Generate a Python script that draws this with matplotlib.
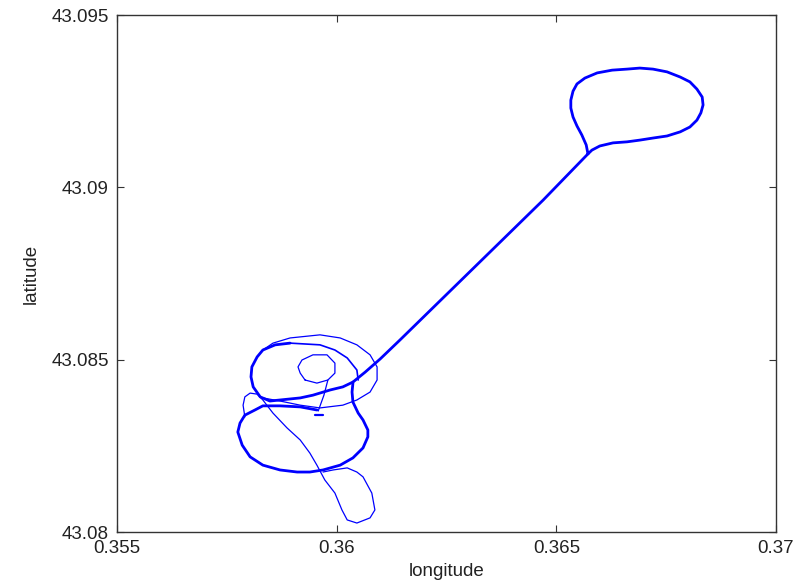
import matplotlib
matplotlib.use("Agg")
import matplotlib.pyplot as plt

# GPS track segments (longitude, latitude)
road_lon = [0.36037, 0.36065, 0.36099, 0.36144, 0.36470, 0.36572,
            0.36568, 0.36558, 0.36547, 0.36538, 0.36533, 0.36533, 0.36538, 0.36547, 0.36565,
            0.36593, 0.36627, 0.36661, 0.36690, 0.36720, 0.36752, 0.36782, 0.36804, 0.36820,
            0.36832, 0.36834, 0.36829, 0.36820, 0.36804, 0.36782, 0.36752, 0.36720, 0.36690,
            0.36661, 0.36629, 0.36599, 0.36581, 0.36572]
road_lat = [43.08435, 43.08464, 43.08502, 43.08557, 43.08963, 43.09097,
            43.09123, 43.09152, 43.09178, 43.09204, 43.09230, 43.09253, 43.09279, 43.09300, 43.09317,
            43.09332, 43.09340, 43.09343, 43.09346, 43.09343, 43.09335, 43.09320, 43.09306, 43.09285,
            43.09262, 43.09239, 43.09216, 43.09195, 43.09175, 43.09161, 43.09149, 43.09143, 43.09137,
            43.09132, 43.09129, 43.09120, 43.09108, 43.09097]

upper_lon = [0.36037, 0.36014, 0.35985, 0.35946, 0.35917, 0.35871, 0.35848, 0.35826, 0.35810,
             0.35805, 0.35807, 0.35819, 0.35832, 0.35860, 0.35894]
upper_lat = [43.08435, 43.08421, 43.08412, 43.08397, 43.08389, 43.08383, 43.08380, 43.08392, 43.08421,
             43.08450, 43.08479, 43.08508, 43.08528, 43.08543, 43.08548]

inner_lon = [0.35894, 0.35962, 0.35996, 0.36024, 0.36046, 0.36049]
inner_lat = [43.08548, 43.08543, 43.08528, 43.08505, 43.08470, 43.08441]

lower_lon = [0.36037, 0.36035, 0.36037, 0.36049, 0.36060, 0.36071, 0.36071, 0.36060, 0.36037,
             0.36008, 0.35969, 0.35939, 0.35910, 0.35871, 0.35832, 0.35803, 0.35785, 0.35775,
             0.35780, 0.35791, 0.35814, 0.35832, 0.35871, 0.35917, 0.35955]
lower_lat = [43.08432, 43.08406, 43.08377, 43.08345, 43.08325, 43.08296, 43.08276, 43.08244, 43.08215,
             43.08194, 43.08180, 43.08174, 43.08174, 43.08180, 43.08194, 43.08218, 43.08252, 43.08290,
             43.08316, 43.08339, 43.08354, 43.08366, 43.08366, 43.08363, 43.08354]

outer_lon = [0.35832, 0.35855, 0.35894, 0.35962, 0.36008, 0.36046, 0.36076, 0.36092, 0.36092,
             0.36076, 0.36046, 0.36014, 0.35962, 0.35917, 0.35871, 0.35832]
outer_lat = [43.08528, 43.08548, 43.08563, 43.08572, 43.08563, 43.08543, 43.08514, 43.08479, 43.08441,
             43.08406, 43.08383, 43.08368, 43.08360, 43.08368, 43.08380, 43.08389]

small_lon = [0.35928, 0.35917, 0.35912, 0.35921, 0.35946, 0.35978, 0.35996, 0.35996, 0.35980,
             0.35955, 0.35928]
small_lat = [43.08441, 43.08461, 43.08479, 43.08499, 43.08514, 43.08514, 43.08490, 43.08461, 43.08441,
             43.08432, 43.08441]

spur_lon = [0.35980, 0.35971, 0.35958]
spur_lat = [43.08441, 43.08397, 43.08351]

dash_lon = [0.35951, 0.35969]
dash_lat = [43.08339, 43.08339]

diag_lon = [0.35791, 0.35787, 0.35791, 0.35803, 0.35819, 0.35832, 0.35855, 0.35887, 0.35917,
            0.35939, 0.35955, 0.35973, 0.35996, 0.36012, 0.36024, 0.36046, 0.36076, 0.36087,
            0.36080, 0.36060, 0.36046, 0.36024, 0.35992, 0.35969]
diag_lat = [43.08334, 43.08368, 43.08392, 43.08403, 43.08400, 43.08383, 43.08345, 43.08302, 43.08267,
            43.08229, 43.08194, 43.08151, 43.08113, 43.08064, 43.08035, 43.08026, 43.08041, 43.08064,
            43.08113, 43.08160, 43.08174, 43.08186, 43.08180, 43.08174]

x_ticks = [0.355, 0.36, 0.365, 0.37]
x_tick_labels = ["0.355", "0.36", "0.365", "0.37"]
y_ticks = [43.08, 43.085, 43.09, 43.095]
y_tick_labels = ["43.08", "43.085", "43.09", "43.095"]

plt.rcParams["font.family"] = ["Liberation Sans", "DejaVu Sans"]

fig = plt.figure(figsize=(8.04, 5.88), dpi=100)
ax = fig.add_axes([117 / 804, 56 / 588, 659 / 804, 517 / 588])

blue = "#0000ff"
thick = 2.0
thin = 0.9
style = dict(color=blue, solid_joinstyle="round", solid_capstyle="round")
ax.plot(road_lon, road_lat, lw=thick, **style)
ax.plot(upper_lon, upper_lat, lw=thick, **style)
ax.plot(inner_lon, inner_lat, lw=1.2, **style)
ax.plot(lower_lon, lower_lat, lw=thick, **style)
ax.plot(outer_lon, outer_lat, lw=thin, **style)
ax.plot(small_lon, small_lat, lw=thin, **style)
ax.plot(spur_lon, spur_lat, lw=thin, **style)
ax.plot(dash_lon, dash_lat, lw=1.6, **style)
ax.plot(diag_lon, diag_lat, lw=thin, **style)

ax.set_xlim(0.355, 0.37)
ax.set_ylim(43.08, 43.095)
ax.set_xticks(x_ticks)
ax.set_xticklabels(x_tick_labels)
ax.set_yticks(y_ticks)
ax.set_yticklabels(y_tick_labels)

for s in ax.spines.values():
    s.set_color("#333333")
    s.set_linewidth(1.0)
ax.tick_params(direction="in", length=5, width=0.8, colors="#333333",
               top=True, right=True, labelsize=13.5, labelcolor="#222222", pad=6)

ax.set_xlabel("longitude", fontsize=13.5, color="#222222", labelpad=4)
ax.set_ylabel("latitude", fontsize=13.5, color="#222222", labelpad=8)

fig.savefig("out.png", dpi=100)
